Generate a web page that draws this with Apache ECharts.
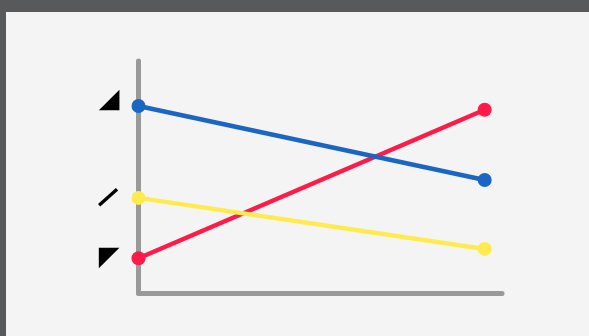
<!DOCTYPE html>
<html>
<head>
<meta charset="utf-8">
<script src="https://cdn.jsdelivr.net/npm/echarts@6/dist/echarts.min.js"></script>
<style>
  html, body { margin: 0; padding: 0; background: #58595b; width: 589px; height: 336px; overflow: hidden; }
  #chart { position: absolute; left: 6px; top: 12px; width: 583px; height: 324px; }
</style>
</head>
<body>
<div id="chart"></div>
<script>
// two points per line, start and end
const xPoints = [0, 1];
const blueValues = [80.6, 48.7];
const yellowValues = [41, 19];
const redValues = [15, 79];
const startMarks = ['◢', '—', '◤'];

document.addEventListener('DOMContentLoaded', function() {
    const chart = echarts.init(document.getElementById('chart'));

    function makeSeries(values, color, mark, extra) {
        return {
            type: 'line',
            data: values.map((v, i) => [xPoints[i], v]),
            symbol: 'circle',
            symbolSize: 14,
            lineStyle: { color: color, width: 4.5 },
            itemStyle: { color: color },
            label: Object.assign({
                show: true,
                position: 'left',
                distance: 14,
                color: '#000',
                fontFamily: 'DejaVu Sans',
                fontWeight: 'bold',
                fontSize: 27,
                formatter: p => (p.dataIndex === 0 ? mark : '')
            }, extra),
            animation: false
        };
    }

    const option = {
        backgroundColor: '#f4f4f4',
        grid: { left: 132.5, top: 49, right: 87, bottom: 43 },
        xAxis: {
            type: 'value',
            min: 0,
            max: 1.05,
            axisLine: { show: true, onZero: false, lineStyle: { color: '#999', width: 5 } },
            axisTick: { show: false },
            axisLabel: { show: false },
            splitLine: { show: false }
        },
        yAxis: {
            type: 'value',
            min: 0,
            max: 100,
            axisLine: { show: true, onZero: false, lineStyle: { color: '#999', width: 5 } },
            axisTick: { show: false },
            axisLabel: { show: false },
            splitLine: { show: false }
        },
        series: [
            makeSeries(redValues, '#ff1a47', startMarks[2], { offset: [2, 0] }),
            makeSeries(yellowValues, '#ffeb50', startMarks[1], { rotate: 42, fontSize: 27, offset: [7, -6.5] }),
            makeSeries(blueValues, '#1a66c2', startMarks[0], { offset: [2, -6] })
        ]
    };

    chart.setOption(option);
});
</script>
</body>
</html>
